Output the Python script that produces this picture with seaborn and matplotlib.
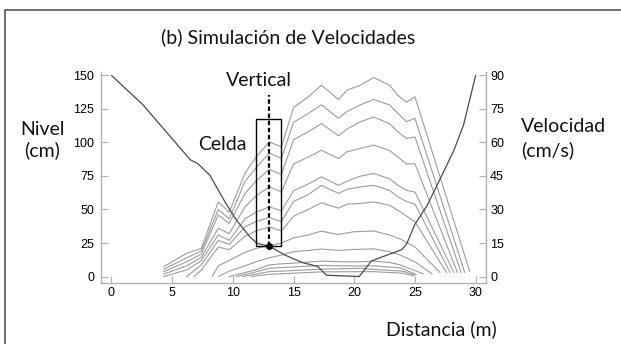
import matplotlib
matplotlib.use("Agg")
import matplotlib.pyplot as plt
import seaborn as sns
import pandas as pd
from matplotlib.patches import Rectangle

sns.set_theme(style="white")
plt.rcParams['font.family'] = ['Lato', 'DejaVu Sans']

# ---------------- data ----------------
# bed / water-level profile (Nivel, cm) along the cross-section (Distancia, m)
bed_dist = [0, 2.6, 6.5, 7.1, 8.1, 9.35, 10.3, 11.4, 12.0, 13.0, 14.3, 15.7, 17.0, 17.7,
            20.4, 21.4, 22.1, 23.9, 24.3, 25.0, 26.0, 27.3, 28.2, 29.0, 30.0]
bed_level = [150, 128, 87, 84.3, 75.6, 55.7, 42, 29.6, 24.7, 22.7, 16, 10.5, 7.5, 1,
             0, 11.5, 14, 20, 24, 39, 53, 77, 94, 113, 150]

# simulated velocity profiles (cm/s), one per layer
d1 = [4.3, 6.2, 7.4, 8.8, 9.7, 11.0, 11.9, 13.0, 14.0, 15.0, 16.2, 17.3, 18.7, 19.4, 20.5, 21.6, 22.9, 23.6, 24.3, 25.0, 29.5]
v1 = [4.4, 10.4, 12.6, 33.4, 28.8, 46.2, 53.4, 60.2, 58.0, 75.6, 80.4, 85.6, 79.2, 83.4, 85.6, 89.0, 85.6, 81.0, 78.0, 80.4, 2.4]
d2 = [4.3, 6.2, 7.4, 8.8, 9.7, 11.0, 11.9, 13.0, 14.0, 15.0, 16.2, 17.3, 18.7, 19.4, 20.5, 21.6, 22.9, 23.6, 24.3, 25.0, 29.1]
v2 = [3.2, 8.4, 11.4, 30.0, 25.8, 42.6, 48.6, 55.2, 52.8, 69.0, 72.9, 76.8, 70.8, 73.8, 76.8, 79.2, 76.8, 73.0, 69.3, 70.8, 1.8]
d3 = [4.3, 6.2, 7.4, 8.8, 9.7, 11.0, 11.9, 13.0, 14.0, 15.0, 16.2, 17.3, 18.7, 19.4, 20.5, 21.6, 22.9, 23.6, 24.3, 25.0, 28.8]
v3 = [2.2, 6.6, 10.1, 27.5, 23.8, 37.2, 42.6, 48.0, 45.6, 61.2, 64.8, 68.4, 63.0, 66.0, 69.2, 71.4, 68.4, 64.7, 61.8, 62.4, 1.8]
d4 = [4.3, 6.2, 7.4, 8.8, 9.7, 11.0, 11.9, 13.0, 14.0, 15.0, 16.2, 17.3, 18.7, 19.4, 20.5, 21.6, 22.9, 23.6, 24.3, 25.0, 28.5]
v4 = [1.1, 4.8, 8.6, 21.6, 19.2, 31.2, 36.0, 40.2, 37.8, 50.4, 53.4, 56.5, 52.8, 55.8, 57.3, 58.8, 56.4, 53.4, 50.4, 50.4, 1.8]
d5 = [4.3, 6.2, 7.4, 8.8, 9.7, 11.0, 11.9, 13.0, 14.0, 15.0, 16.2, 17.3, 18.7, 19.4, 20.5, 21.6, 22.9, 23.6, 24.3, 25.0, 28.2]
v5 = [0.0, 3.0, 7.1, 18.6, 16.2, 25.8, 28.8, 31.2, 29.4, 38.4, 41.4, 44.6, 40.8, 42.6, 44.9, 46.1, 43.8, 40.8, 38.6, 37.8, 1.8]
d6 = [6.2, 7.4, 8.8, 9.7, 11.0, 11.9, 13.0, 14.0, 15.0, 16.2, 17.3, 18.7, 19.4, 20.5, 21.6, 22.9, 23.6, 24.3, 25.0, 27.9]
v6 = [0.0, 5.2, 16.2, 14.4, 22.2, 24.6, 26.4, 24.6, 33.6, 36.6, 40.8, 37.2, 39.0, 40.1, 40.8, 38.6, 35.6, 33.6, 32.4, 1.8]
d7 = [6.8, 7.4, 8.8, 9.7, 11.0, 11.9, 13.0, 14.0, 15.0, 16.2, 17.3, 18.7, 19.4, 20.5, 21.6, 22.9, 23.8, 25.0, 27.6]
v7 = [0.0, 2.9, 13.2, 12.0, 18.0, 20.4, 22.2, 20.4, 27.0, 30.0, 33.0, 30.6, 32.4, 32.7, 33.4, 31.9, 28.9, 24.5, 1.8]
d8 = [8.3, 8.8, 9.7, 11.0, 11.9, 13.0, 14.0, 15.0, 16.2, 17.3, 18.7, 19.9, 21.6, 22.9, 23.8, 25.0, 27.06]
v8 = [0.0, 4.8, 7.2, 10.8, 12.6, 13.8, 15.0, 17.3, 18.6, 20.3, 18.8, 20.0, 20.4, 18.6, 16.8, 13.2, 1.8]
d9 = [8.8, 9.7, 11.0, 11.9, 13.0, 14.0, 15.0, 16.2, 17.3, 18.7, 19.9, 21.6, 22.9, 23.8, 25.0, 26.4]
v9 = [0.0, 2.4, 4.8, 6.6, 8.4, 9.6, 11.1, 11.7, 12.3, 11.7, 12.1, 12.4, 11.1, 9.6, 6.6, 1.2]
d10 = [9.7, 11.0, 11.9, 13.0, 14.0, 15.0, 17.3, 19.0, 20.5, 21.6, 22.9, 23.8, 25.7]
v10 = [0.0, 1.8, 3.0, 5.2, 5.7, 6.0, 6.9, 6.6, 6.6, 6.9, 6.3, 5.2, 1.2]
d11 = [10.3, 11.9, 13.0, 15.0, 17.3, 20.5, 21.6, 23.8, 25.1]
v11 = [0.0, 2.1, 3.7, 4.3, 5.0, 4.7, 4.8, 3.9, 1.0]
d12 = [10.8, 13.0, 15.0, 17.3, 20.5, 21.6, 24.0, 25.0]
v12 = [0.0, 2.2, 2.7, 3.3, 3.7, 3.2, 2.4, 0.7]
d13 = [11.5, 13.0, 15.0, 17.3, 21.6, 24.0, 24.9]
v13 = [0.0, 1.0, 1.5, 2.1, 2.2, 1.5, 0.3]

profiles_d = [d1, d2, d3, d4, d5, d6, d7, d8, d9, d10, d11, d12, d13]
profiles_v = [v1, v2, v3, v4, v5, v6, v7, v8, v9, v10, v11, v12, v13]

# cell / vertical annotation (Distancia m, Nivel cm)
cell_x = [11.9, 14.0]
cell_y = [22.5, 117.5]
vertical_x = 13.0
vertical_y = [22.7, 135]

x_ticks = [0, 5, 10, 15, 20, 25, 30]
y_ticks = [0, 25, 50, 75, 100, 125, 150]
v_ticks = [0, 15, 30, 45, 60, 75, 90]

rows = []
for i, (dd, vv) in enumerate(zip(profiles_d, profiles_v)):
    for a, b in zip(dd, vv):
        rows.append({"line": i, "dist": a, "vel": b})
vel_df = pd.DataFrame(rows)
bed_df = pd.DataFrame({"dist": bed_dist, "level": bed_level})

# ---------------- figure ----------------
W, H = 621, 344
fig = plt.figure(figsize=(W / 100, H / 100), dpi=100)
fig.patch.set_facecolor("white")
ax = fig.add_axes([101 / W, 1 - 283 / H, (486 - 101) / W, (283 - 72) / H])
ax2 = ax.twinx()

sns.lineplot(data=vel_df, x="dist", y="vel", units="line", estimator=None, sort=False,
             color="#9c9c9c", lw=0.8, ax=ax2, legend=False)
sns.lineplot(data=bed_df, x="dist", y="level", sort=False, color="#4a4a4a", lw=0.9,
             ax=ax, legend=False)

ax.add_patch(Rectangle((cell_x[0], cell_y[0]), cell_x[1] - cell_x[0], cell_y[1] - cell_y[0],
                       fill=False, ec="black", lw=1.0, zorder=5))
ax.plot([vertical_x, vertical_x], vertical_y, color="black", lw=1.6,
        ls=(0, (2, 1.2)), zorder=6)
ax.plot([vertical_x], [vertical_y[0]], "o", color="black", ms=4, zorder=7)

ax.set_zorder(ax2.get_zorder() + 1)
ax.patch.set_visible(False)

ax.set_xlim(-0.86, 30.85)
ax.set_ylim(-4.8, 152.5)
ax2.set_ylim(-4.8 * 0.6, 152.5 * 0.6)
ax.set_xticks(x_ticks)
ax.set_yticks(y_ticks)
ax2.set_yticks(v_ticks)
ax.set_xlabel("")
ax.set_ylabel("")
ax2.set_ylabel("")

spc = "#b0b0b0"
for a in (ax, ax2):
    a.spines["top"].set_visible(False)
    for s in a.spines.values():
        s.set_color(spc)
        s.set_linewidth(1.0)
ax.spines["right"].set_visible(False)
ax2.spines["left"].set_visible(False)
ax2.spines["bottom"].set_visible(False)

tick_font = {"family": ["Liberation Sans", "DejaVu Sans"], "size": 9}
ax.tick_params(axis="y", direction="in", length=5, width=0.8, color=spc, pad=5, left=True)
ax.tick_params(axis="x", direction="in", length=5, width=0.8, color=spc, pad=3, bottom=True)
ax2.tick_params(axis="y", direction="in", length=5, width=0.8, color=spc, pad=3, right=True)
for lab in ax.get_xticklabels() + ax.get_yticklabels() + ax2.get_yticklabels():
    lab.set_fontfamily(tick_font["family"])
    lab.set_fontsize(tick_font["size"])
    lab.set_color("black")

def ftext(x, y, s, **kw):
    fig.text(x / W, 1 - y / H, s, fontsize=14, color="#111111", fontweight="normal", **kw)

ftext(288, 37, "(b) Simulación de Velocidades", ha="center", va="center")
ftext(20, 135, "Nivel", ha="left", va="baseline")
ftext(24, 156, "(cm)", ha="left", va="baseline")
ftext(521, 132, "Velocidad", ha="left", va="baseline")
ftext(521, 156, "(cm/s)", ha="left", va="baseline")
ftext(258.5, 86, "Vertical", ha="center", va="baseline")
ftext(198, 150, "Celda", ha="left", va="baseline")
ftext(386, 335, "Distancia (m)", ha="left", va="baseline")

fig.add_artist(Rectangle((5 / W, -0.2), 1.2, (H - 10) / H + 0.2, transform=fig.transFigure,
                         fill=False, ec="#555555", lw=1.2))

fig.savefig("out.png", dpi=100)
